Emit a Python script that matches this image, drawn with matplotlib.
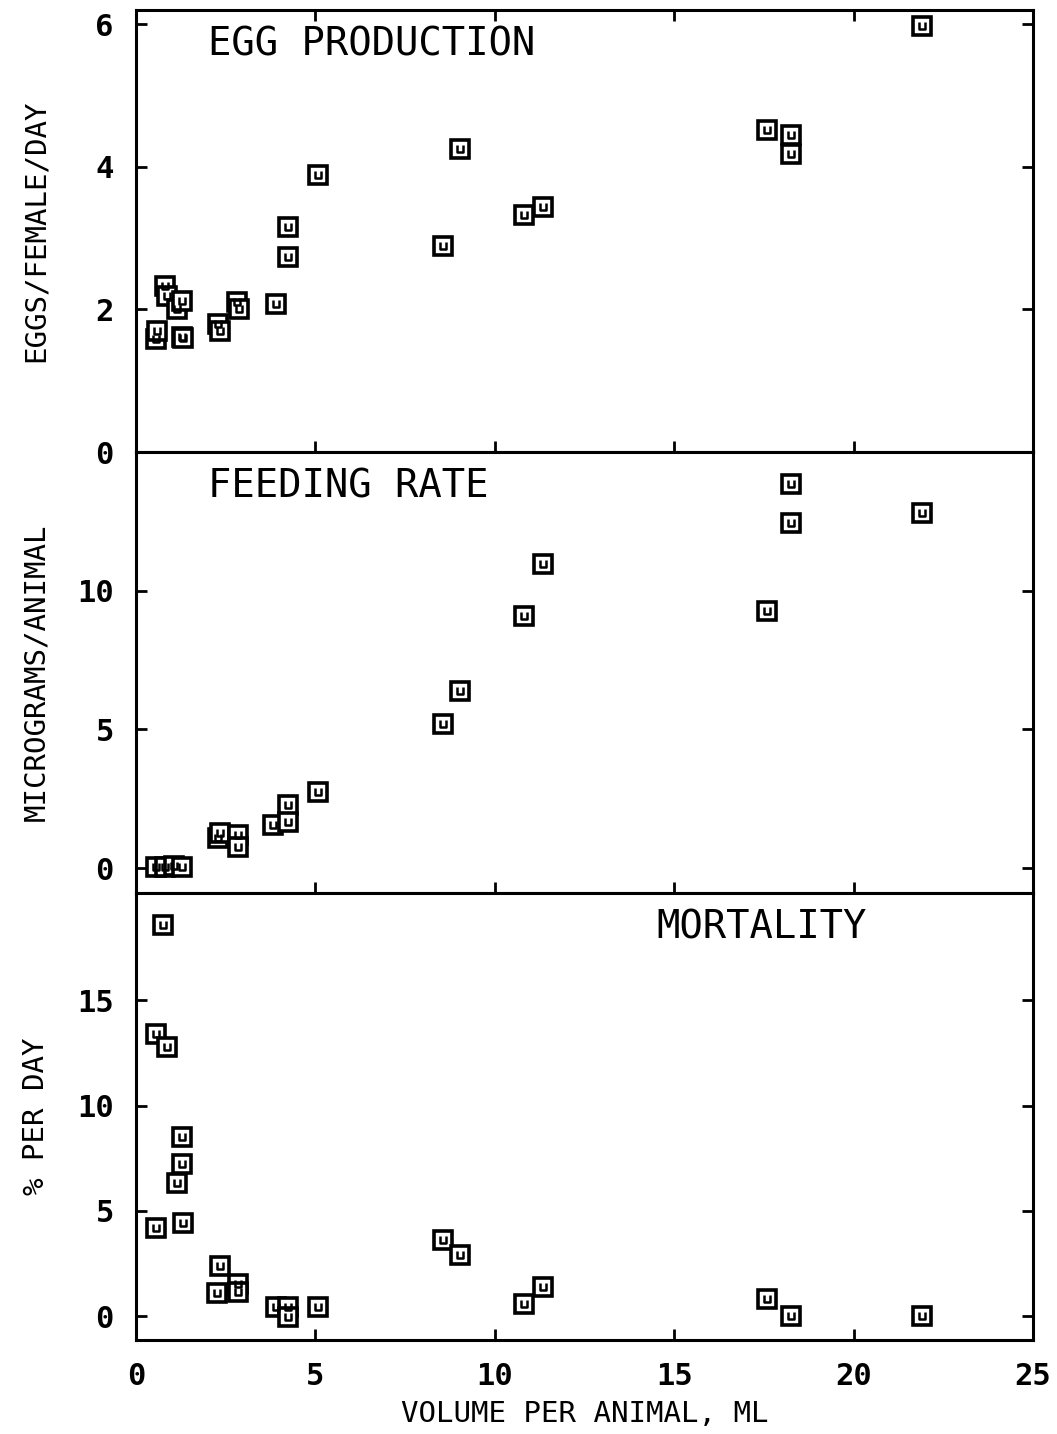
import numpy as np
import matplotlib
matplotlib.use("Agg")
from matplotlib import pyplot as plt
from matplotlib.path import Path

# volume per animal (ml) for each panel
egg_x = [0.55, 0.59, 0.81, 0.87, 1.15, 1.29, 1.29, 1.32, 2.28, 2.35, 2.82, 2.87,
         3.9, 4.25, 4.25, 5.06, 8.56, 9.03, 10.82, 11.35, 17.6, 18.26, 18.26, 21.9]
egg_y = [1.59, 1.70, 2.33, 2.19, 2.01, 2.12, 1.62, 1.60, 1.80, 1.70, 2.10, 2.00,
         2.08, 2.73, 3.15, 3.89, 2.89, 4.25, 3.33, 3.44, 4.52, 4.45, 4.18, 5.97]

feed_x = [0.55, 0.80, 1.05, 1.29, 2.28, 2.35, 2.85, 2.85,
          3.83, 4.25, 4.25, 5.06, 8.56, 9.03, 10.82, 11.35, 17.6, 18.26, 18.26, 21.9]
feed_y = [0.05, 0.05, 0.08, 0.05, 1.08, 1.26, 1.19, 0.76,
          1.55, 2.27, 1.65, 2.73, 5.18, 6.40, 9.10, 10.97, 9.28, 13.85, 12.45, 12.80]

mort_x = [0.76, 0.55, 0.87, 1.29, 1.29, 1.15, 0.55, 1.32, 2.35, 2.25, 2.85, 2.85,
          3.9, 4.25, 4.25, 5.06, 8.56, 9.03, 10.82, 11.35, 17.6, 18.26, 21.9]
mort_y = [18.6, 13.4, 12.8, 8.5, 7.2, 6.3, 4.2, 4.4, 2.4, 1.1, 1.5, 1.15,
          0.45, 0.45, -0.05, 0.45, 3.6, 2.9, 0.55, 1.4, 0.8, 0.0, 0.0]

titles = ["EGG PRODUCTION", "FEEDING RATE", "MORTALITY"]
ylabels = ["EGGS/FEMALE/DAY", "MICROGRAMS/ANIMAL", "% PER DAY"]
xticks = [0, 5, 10, 15, 20, 25]
yticks_list = [[0, 2, 4, 6], [0, 5, 10], [0, 5, 10, 15]]
ylims = [(0, 6.2), (-0.9, 15.0), (-1.14, 20.1)]

FONT = "DejaVu Sans Mono"
plt.rcParams["font.family"] = FONT

# little "u" drawn inside each box, like the plotter symbol
u_mark = Path([(-0.5, 0.6), (-0.5, -0.5), (0.5, -0.5), (0.5, 0.6)],
              [Path.MOVETO, Path.LINETO, Path.LINETO, Path.LINETO])

fig = plt.figure(figsize=(10.57, 14.34), dpi=100)
left, width = 136 / 1057, 897 / 1057
boxes = [(10, 452), (452, 893), (893, 1340)]
data = [(egg_x, egg_y), (feed_x, feed_y), (mort_x, mort_y)]
title_pos = [0.08, 0.08, 0.58]

for i in range(3):
    top, bot = boxes[i]
    ax = fig.add_axes([left, 1 - bot / 1434, width, (bot - top) / 1434])
    x, y = data[i]
    ax.plot(x, y, linestyle="none", marker="s", markersize=13,
            markerfacecolor="white", markeredgecolor="black", markeredgewidth=2.6)
    ax.plot(x, y, linestyle="none", marker=u_mark, markersize=6,
            fillstyle="none", markeredgecolor="black", markeredgewidth=1.8)
    ax.set_xlim(0, 25)
    ax.set_ylim(*ylims[i])
    ax.set_xticks(xticks)
    ax.set_yticks(yticks_list[i])
    ax.tick_params(direction="in", length=8, width=2, right=True, top=(i == 0),
                   labelsize=22, pad=16)
    ax.tick_params(axis="x", pad=16)
    if i < 2:
        ax.tick_params(labelbottom=False)
    for lab in ax.get_xticklabels() + ax.get_yticklabels():
        lab.set_fontweight("bold")
    for s in ax.spines.values():
        s.set_linewidth(2.2)
    ax.text(title_pos[i], 0.965, titles[i], transform=ax.transAxes, ha="left",
            va="top", fontsize=28)
    ax.set_ylabel(ylabels[i], fontsize=21)
    ax.yaxis.set_label_coords(-0.096, 0.5)
    if i == 2:
        ax.set_xlabel("VOLUME PER ANIMAL, ML", fontsize=21, labelpad=6)

fig.savefig("out.png", dpi=100)
